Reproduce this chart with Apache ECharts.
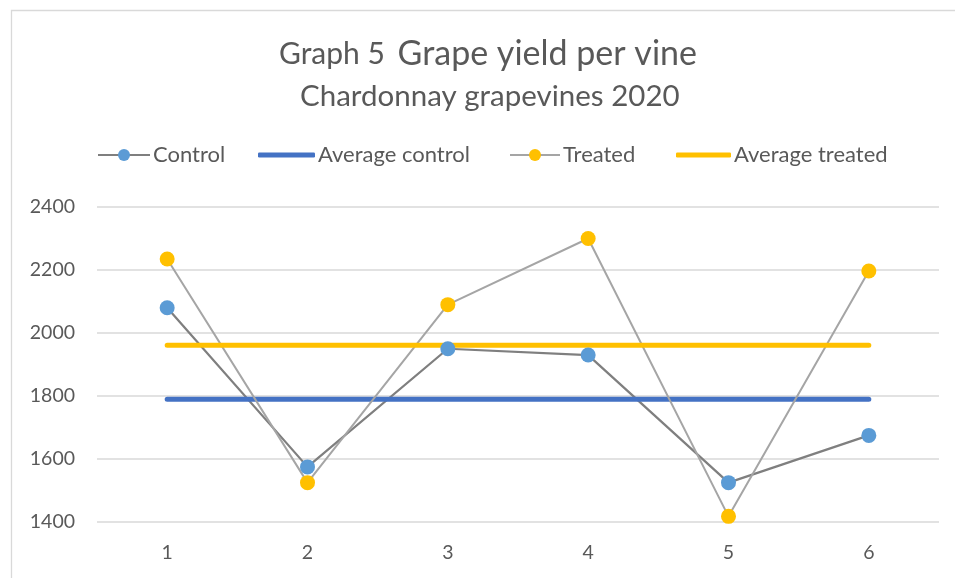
<!DOCTYPE html>
<html>
<head>
<meta charset="utf-8">
<script src="https://cdn.jsdelivr.net/npm/echarts@6/dist/echarts.min.js"></script>
<style>
html,body{margin:0;padding:0;background:#fff;}
#chart{width:955px;height:578px;}
</style>
</head>
<body>
<div id="chart"></div>
<script>
const categories = ['1', '2', '3', '4', '5', '6'];
const controlValues = [2080, 1575, 1950, 1930, 1525, 1675];
const treatedValues = [2235, 1525, 2090, 2300, 1418, 2197];
const averageControl = [1790, 1790, 1790, 1790, 1790, 1790];
const averageTreated = [1961, 1961, 1961, 1961, 1961, 1961];
const yTicks = [1400, 1600, 1800, 2000, 2200, 2400];

const FONT = 'Lato';
const TXT = '#595959';
const chart = echarts.init(document.getElementById('chart'), null, {renderer: 'canvas'});

function legendAt(name, left, w, h, icon) {
  const item = icon ? {name: name, icon: icon} : {name: name};
  return {
    data: [item], left: left, top: 144, itemWidth: w, itemHeight: h, itemGap: 4,
    textStyle: {fontFamily: FONT, fontSize: 22, color: TXT, padding: [0, 0, 0, -2]},
    padding: 0, orient: 'horizontal', align: 'left'
  };
}

chart.setOption({
  backgroundColor: '#ffffff',
  animation: false,
  graphic: [{
    type: 'rect', left: 9, top: 8, silent: true,
    shape: {width: 990, height: 620},
    style: {fill: 'none', stroke: '#d9d9d9', lineWidth: 1.3}
  }],
  title: [{
    text: '{a|Graph 5 } {b|Grape yield per vine}',
    left: 279, top: 37, padding: 0,
    textStyle: {
      fontWeight: 'normal',
      rich: {
        a: {fontFamily: FONT, fontSize: 30, color: TXT, fontWeight: 'normal'},
        b: {fontFamily: FONT, fontSize: 34, color: TXT, fontWeight: 'normal'}
      }
    }
  }, {
    text: 'Chardonnay grapevines 2020',
    left: 300, top: 81, padding: 0,
    textStyle: {fontFamily: FONT, fontSize: 29.5, fontWeight: 'normal', color: TXT}
  }],
  legend: [
    legendAt('Control', 97, 52, 15),
    legendAt('Average control', 258, 57, 5, 'roundRect'),
    legendAt('Treated', 509, 50, 15),
    legendAt('Average treated', 676, 55, 5, 'roundRect')
  ],
  grid: {left: 97, right: 16, top: 207, bottom: 56, containLabel: false},
  xAxis: {
    type: 'category', data: categories, boundaryGap: true,
    axisLine: {show: false}, axisTick: {show: false},
    axisLabel: {fontFamily: FONT, fontSize: 19.5, color: TXT, margin: 21}
  },
  yAxis: {
    type: 'value', min: yTicks[0], max: yTicks[yTicks.length - 1], interval: 200,
    axisLine: {show: false}, axisTick: {show: false},
    axisLabel: {fontFamily: FONT, fontSize: 19.5, color: TXT, margin: 22,
      formatter: function (v) { return String(v); }},
    splitLine: {lineStyle: {color: '#d9d9d9', width: 1.5}}
  },
  series: [{
    name: 'Control', type: 'line', data: controlValues,
    symbol: 'circle', symbolSize: 15,
    itemStyle: {color: '#5b9bd5', borderWidth: 0},
    lineStyle: {color: '#7f7f7f', width: 2.25}
  }, {
    name: 'Average control', type: 'line', data: averageControl,
    symbol: 'none', itemStyle: {color: '#4472c4'},
    lineStyle: {color: '#4472c4', width: 5, cap: 'round'}
  }, {
    name: 'Treated', type: 'line', data: treatedValues,
    symbol: 'circle', symbolSize: 15,
    itemStyle: {color: '#ffc000', borderWidth: 0},
    lineStyle: {color: '#a5a5a5', width: 2}
  }, {
    name: 'Average treated', type: 'line', data: averageTreated,
    symbol: 'none', itemStyle: {color: '#ffc000'},
    lineStyle: {color: '#ffc000', width: 5, cap: 'round'}
  }]
});
</script>
</body>
</html>
